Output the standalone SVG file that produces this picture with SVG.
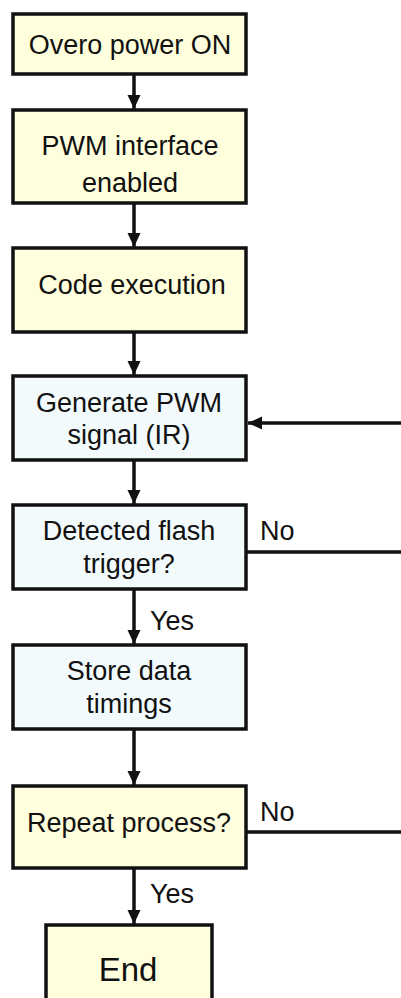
<svg xmlns="http://www.w3.org/2000/svg" width="401" height="998" viewBox="0 0 401 998">
  <style>
    .box { stroke: #111; stroke-width: 3.5; }
    .yel { fill: #FFFFDD; }
    .blu { fill: #F2FAFC; }
    .lbl { font-family: "Liberation Sans", Arial, sans-serif; font-size: 27px; fill: #111; text-anchor: middle; }
    .tag { font-family: "Liberation Sans", Arial, sans-serif; font-size: 27px; fill: #111; }
    .wire { stroke: #111; stroke-width: 3.5; fill: none; }
  </style>
  <defs>
    <marker id="arr" markerUnits="userSpaceOnUse" markerWidth="16" markerHeight="16" viewBox="0 0 16 16" refX="14" refY="8" orient="auto">
      <path d="M0,1.5 L14,8 L0,14.5 Z" fill="#111"/>
    </marker>
  </defs>

  <rect width="401" height="998" fill="#ffffff"/>

  <g id="connectors">
    <line class="wire" x1="134" y1="74" x2="134" y2="109" marker-end="url(#arr)"/>
    <line class="wire" x1="134" y1="203" x2="134" y2="247" marker-end="url(#arr)"/>
    <line class="wire" x1="134" y1="332" x2="134" y2="375" marker-end="url(#arr)"/>
    <line class="wire" x1="134" y1="460" x2="134" y2="504" marker-end="url(#arr)"/>
    <line class="wire" x1="134" y1="589" x2="134" y2="644" marker-end="url(#arr)"/>
    <line class="wire" x1="134" y1="729" x2="134" y2="785" marker-end="url(#arr)"/>
    <line class="wire" x1="134" y1="868" x2="134" y2="924" marker-end="url(#arr)"/>
    <line class="wire" x1="401" y1="423" x2="248" y2="423" marker-end="url(#arr)"/>
    <line class="wire" x1="246" y1="552" x2="401" y2="552"/>
    <line class="wire" x1="246" y1="832" x2="401" y2="832"/>
    <text class="tag" x="260" y="540">No</text>
    <text class="tag" x="150" y="630">Yes</text>
    <text class="tag" x="260" y="821">No</text>
    <text class="tag" x="150" y="903">Yes</text>
  </g>

  <g id="power-on">
    <rect class="box yel" x="13" y="14" width="233" height="60"/>
    <text class="lbl" x="130" y="54">Overo power ON</text>
  </g>

  <g id="pwm-enabled">
    <rect class="box yel" x="13" y="110" width="233" height="93"/>
    <text class="lbl" x="130" y="155">PWM interface</text>
    <text class="lbl" x="130" y="192">enabled</text>
  </g>

  <g id="code-execution">
    <rect class="box yel" x="13" y="248" width="233" height="84"/>
    <text class="lbl" x="132" y="294">Code execution</text>
  </g>

  <g id="generate-pwm">
    <rect class="box blu" x="13" y="376" width="233" height="84"/>
    <text class="lbl" x="129" y="412">Generate PWM</text>
    <text class="lbl" x="129" y="444">signal (IR)</text>
  </g>

  <g id="flash-trigger">
    <rect class="box blu" x="13" y="505" width="233" height="84"/>
    <text class="lbl" x="129" y="540">Detected flash</text>
    <text class="lbl" x="129" y="573">trigger?</text>
  </g>

  <g id="store-timings">
    <rect class="box blu" x="13" y="645" width="233" height="84"/>
    <text class="lbl" x="129" y="680">Store data</text>
    <text class="lbl" x="129" y="713">timings</text>
  </g>

  <g id="repeat">
    <rect class="box yel" x="13" y="786" width="233" height="82"/>
    <text class="lbl" x="129" y="832">Repeat process?</text>
  </g>

  <g id="end">
    <rect class="box yel" x="46" y="925" width="166" height="80"/>
    <text class="lbl" x="128" y="981" style="font-size:33px">End</text>
  </g>
</svg>
